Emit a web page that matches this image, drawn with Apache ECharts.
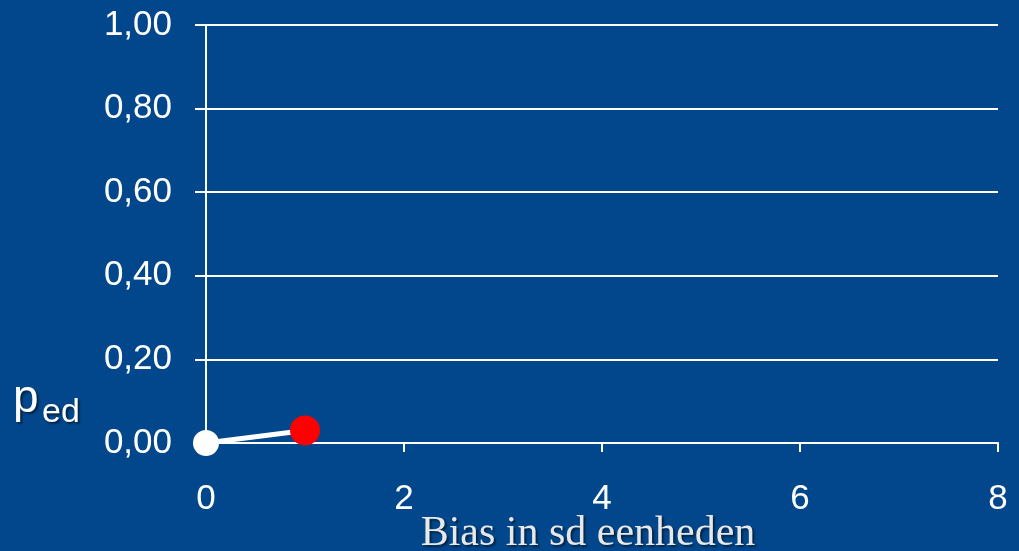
<!DOCTYPE html>
<html>
<head>
<meta charset="utf-8">
<script src="https://cdn.jsdelivr.net/npm/echarts@6/dist/echarts.min.js"></script>
<style>
html, body { margin: 0; padding: 0; background: #02478b; }
#chart { width: 1019px; height: 551px; }
</style>
</head>
<body>
<div id="chart"></div>
<script>
// bias (sd units) vs p_ed
var biasValues = [0, 1];
var pedValues = [0, 0.03];
var pointColors = ['#ffffff', '#ff0000'];
var pointSizes = [26, 30];
var xTicks = [0, 2, 4, 6, 8];
var yTicks = [0, 0.2, 0.4, 0.6, 0.8, 1.0];

var chart = echarts.init(document.getElementById('chart'));

var points = biasValues.map(function (b, i) {
    return {
        value: [b, pedValues[i]],
        symbolSize: pointSizes[i],
        itemStyle: {color: pointColors[i]}
    };
});

var shadow = {
    textShadowColor: 'rgba(0,0,0,0.5)',
    textShadowBlur: 2,
    textShadowOffsetX: 2,
    textShadowOffsetY: 2
};

option = {
    backgroundColor: '#02478b',
    animation: false,
    grid: {
        left: 206,
        right: 21,
        top: 25,
        bottom: 108,
        containLabel: false,
        outerBoundsMode: 'none'
    },
    xAxis: {
        type: 'value',
        min: xTicks[0],
        max: xTicks[xTicks.length - 1],
        interval: 2,
        name: 'Bias in sd eenheden',
        nameLocation: 'middle',
        nameGap: 70,
        nameMoveOverlap: false,
        nameTextStyle: Object.assign({
            color: '#e8e8e8',
            fontFamily: 'Liberation Serif',
            fontSize: 42,
            padding: [0, 28, 0, 0]
        }, shadow),
        axisLine: {lineStyle: {color: '#ffffff', width: 2}},
        axisTick: {show: true, length: 9, lineStyle: {color: '#ffffff', width: 2}},
        axisLabel: {
            color: '#ffffff',
            fontFamily: 'Liberation Sans',
            fontSize: 35,
            margin: 39,
            formatter: function (v) { return xTicks.indexOf(v) >= 0 ? String(v) : ''; }
        },
        splitLine: {show: false}
    },
    yAxis: {
        type: 'value',
        min: yTicks[0],
        max: yTicks[yTicks.length - 1],
        interval: 0.2,
        axisLine: {show: true, lineStyle: {color: '#ffffff', width: 2}},
        axisTick: {show: true, length: 11, lineStyle: {color: '#ffffff', width: 2}},
        axisLabel: {
            color: '#ffffff',
            fontFamily: 'Liberation Sans',
            fontSize: 35,
            margin: 34,
            formatter: function (v) { return v.toFixed(2).replace('.', ','); }
        },
        splitLine: {show: true, lineStyle: {color: '#ffffff', width: 2}}
    },
    graphic: [{
        type: 'text',
        left: 13,
        top: 376,
        style: Object.assign({
            text: 'p',
            fontSize: 46,
            fontFamily: 'Liberation Sans',
            fill: '#ffffff'
        }, shadow)
    }, {
        type: 'text',
        left: 42,
        top: 396,
        style: Object.assign({
            text: 'ed',
            fontSize: 34,
            fontFamily: 'Liberation Sans',
            fill: '#ffffff'
        }, shadow)
    }],
    series: [{
        type: 'line',
        data: points,
        symbol: 'circle',
        lineStyle: {color: '#ffffff', width: 5},
        z: 5
    }]
};
chart.setOption(option);
</script>
</body>
</html>
